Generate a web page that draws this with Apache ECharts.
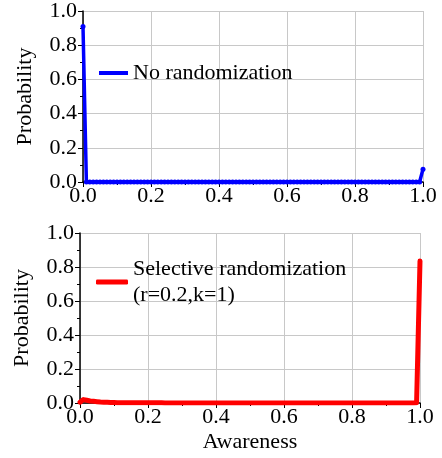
<!DOCTYPE html>
<html>
<head>
<meta charset="utf-8">
<script src="https://cdn.jsdelivr.net/npm/echarts@6/dist/echarts.min.js"></script>
<style>html,body{margin:0;padding:0;background:#fff;}#c{width:442px;height:458px;}</style>
</head>
<body>
<div id="c"></div>
<script>
var awareness = [0.00,0.01,0.02,0.03,0.04,0.05,0.06,0.07,0.08,0.09,
0.10,0.11,0.12,0.13,0.14,0.15,0.16,0.17,0.18,0.19,
0.20,0.21,0.22,0.23,0.24,0.25,0.26,0.27,0.28,0.29,
0.30,0.31,0.32,0.33,0.34,0.35,0.36,0.37,0.38,0.39,
0.40,0.41,0.42,0.43,0.44,0.45,0.46,0.47,0.48,0.49,
0.50,0.51,0.52,0.53,0.54,0.55,0.56,0.57,0.58,0.59,
0.60,0.61,0.62,0.63,0.64,0.65,0.66,0.67,0.68,0.69,
0.70,0.71,0.72,0.73,0.74,0.75,0.76,0.77,0.78,0.79,
0.80,0.81,0.82,0.83,0.84,0.85,0.86,0.87,0.88,0.89,
0.90,0.91,0.92,0.93,0.94,0.95,0.96,0.97,0.98,0.99,1.00];
var noRandomization = [0.91,0.0,0.0,0.0,0.0,0.0,0.0,0.0,0.0,0.0,
0.0,0.0,0.0,0.0,0.0,0.0,0.0,0.0,0.0,0.0,
0.0,0.0,0.0,0.0,0.0,0.0,0.0,0.0,0.0,0.0,
0.0,0.0,0.0,0.0,0.0,0.0,0.0,0.0,0.0,0.0,
0.0,0.0,0.0,0.0,0.0,0.0,0.0,0.0,0.0,0.0,
0.0,0.0,0.0,0.0,0.0,0.0,0.0,0.0,0.0,0.0,
0.0,0.0,0.0,0.0,0.0,0.0,0.0,0.0,0.0,0.0,
0.0,0.0,0.0,0.0,0.0,0.0,0.0,0.0,0.0,0.0,
0.0,0.0,0.0,0.0,0.0,0.0,0.0,0.0,0.0,0.0,
0.0,0.0,0.0,0.0,0.0,0.0,0.0,0.0,0.0,0.0,0.075];
var selectiveRandomization = [0.005,0.02,0.016,0.012,0.01,0.008,0.006,0.005,0.004,0.003,
0.003,0.002,0.002,0.002,0.001,0.001,0.001,0.001,0.001,0.001,
0.001,0.001,0.001,0.001,0.001,0.0,0.0,0.0,0.0,0.0,
0.0,0.0,0.0,0.0,0.0,0.0,0.0,0.0,0.0,0.0,
0.0,0.0,0.0,0.0,0.0,0.0,0.0,0.0,0.0,0.0,
0.0,0.0,0.0,0.0,0.0,0.0,0.0,0.0,0.0,0.0,
0.0,0.0,0.0,0.0,0.0,0.0,0.0,0.0,0.0,0.0,
0.0,0.0,0.0,0.0,0.0,0.0,0.0,0.0,0.0,0.0,
0.0,0.0,0.0,0.0,0.0,0.0,0.0,0.0,0.0,0.0,
0.0,0.0,0.0,0.0,0.0,0.0,0.0,0.0,0.0,0.002,0.835];
var seriesNames = ['No randomization', 'Selective randomization\n(r=0.2,k=1)'];

function pairs(xs, ys){ return xs.map(function(x,i){ return [x, ys[i]]; }); }
var FONT = '"Liberation Serif", "DejaVu Serif", serif';
function xAx(idx, name){
  return {
    type:'value', gridIndex:idx, min:0, max:1, interval:0.2,
    name:name||'', nameLocation:'middle', nameGap:28,
    nameTextStyle:{fontFamily:FONT, fontSize:22, color:'#000'},
    axisLine:{show:true, onZero:false, lineStyle:{color:'#000', width:1.5}},
    axisTick:{show:true, length:5, inside:false, lineStyle:{color:'#000'}},
    minorTick:{show:true, splitNumber:2, length:3, lineStyle:{color:'#000'}},
    axisLabel:{fontFamily:FONT, fontSize:22, color:'#000', margin:3,
      formatter:function(v){return v.toFixed(1);}},
    splitLine:{show:true, lineStyle:{color:'#c8c8c8', width:1}}
  };
}
function yAx(idx){
  return {
    type:'value', gridIndex:idx, min:0, max:1, interval:0.2,
    name:'Probability', nameLocation:'middle', nameGap:47,
    nameTextStyle:{fontFamily:FONT, fontSize:22, color:'#000'},
    axisLine:{show:true, onZero:false, lineStyle:{color:'#000', width:1.5}},
    axisTick:{show:true, length:5, inside:false, lineStyle:{color:'#000'}},
    minorTick:{show:true, splitNumber:2, length:3, lineStyle:{color:'#000'}},
    axisLabel:{fontFamily:FONT, fontSize:22, color:'#000', margin:6,
      formatter:function(v){return v.toFixed(1);}},
    splitLine:{show:true, lineStyle:{color:'#c8c8c8', width:1}}
  };
}
var chart = echarts.init(document.getElementById('c'), null, {renderer:'canvas'});
chart.setOption({
  animation:false,
  backgroundColor:'#fff',
  grid:[
    {left:83, top:11, width:340, height:171, containLabel:false},
    {left:80, top:233, width:340, height:170, containLabel:false}
  ],
  xAxis:[xAx(0), xAx(1,'Awareness')],
  yAxis:[yAx(0), yAx(1)],
  legend:[
    {data:[{name:seriesNames[0], icon:'rect'}], left:94, top:57, itemWidth:29, itemHeight:4, itemGap:0,
     textStyle:{fontFamily:FONT, fontSize:22, color:'#000', padding:[0,0,0,0]}},
    {data:[{name:seriesNames[1], icon:'roundRect'}], left:91, top:251, itemWidth:32, itemHeight:5, itemGap:0,
     textStyle:{fontFamily:FONT, fontSize:22, color:'#000', lineHeight:26, padding:[0,0,0,0]}}
  ],
  series:[
    {name:seriesNames[0], type:'line', xAxisIndex:0, yAxisIndex:0,
     data:pairs(awareness, noRandomization),
     symbol:'circle', symbolSize:5, showAllSymbol:true,
     itemStyle:{color:'#0000ff'},
     lineStyle:{color:'#0000ff', width:3.5}},
    {name:seriesNames[1], type:'line', xAxisIndex:1, yAxisIndex:1,
     data:pairs(awareness, selectiveRandomization),
     symbol:'none', itemStyle:{color:'#ff0000'},
     lineStyle:{color:'#ff0000', width:5, cap:'round', join:'round'}}
  ]
});
</script>
</body>
</html>
